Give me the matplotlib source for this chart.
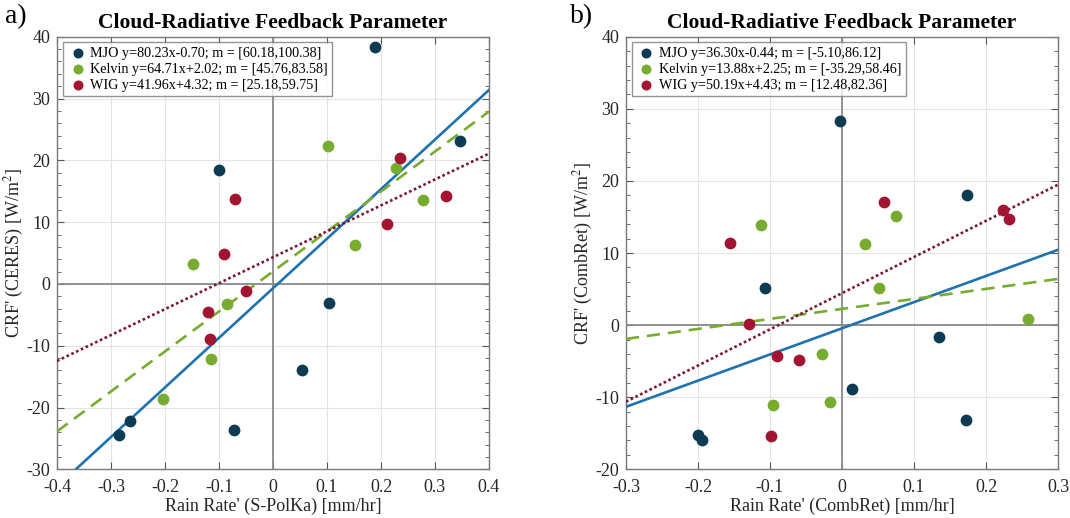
import numpy as np
import matplotlib.pyplot as plt
from matplotlib.ticker import MultipleLocator

plt.rcParams['font.family'] = ['Liberation Serif', 'DejaVu Serif']
plt.rcParams['mathtext.fontset'] = 'stix'
plt.rcParams['axes.unicode_minus'] = False

# panel a: S-PolKa rain rate vs CERES CRF
a_mjo_x = [0.189, -0.100, 0.347, 0.103, 0.053, -0.265, -0.286, -0.072]
a_mjo_y = [38.4, 18.4, 23.2, -3.1, -13.9, -22.2, -24.4, -23.7]
a_kel_x = [-0.148, -0.085, -0.115, -0.203, 0.102, 0.228, 0.277, 0.151]
a_kel_y = [3.2, -3.3, -12.1, -18.7, 22.4, 18.7, 13.6, 6.3]
a_wig_x = [-0.091, -0.050, -0.120, -0.116, 0.236, -0.071, 0.320, 0.211]
a_wig_y = [4.8, -1.2, -4.6, -8.9, 20.4, 13.7, 14.2, 9.7]
a_slope = [80.23, 64.71, 41.96]
a_icept = [-0.70, 2.02, 4.32]
a_labels = ['MJO y=80.23x-0.70; m = [60.18,100.38]',
            'Kelvin y=64.71x+2.02; m = [45.76,83.58]',
            'WIG y=41.96x+4.32; m = [25.18,59.75]']

# panel b: CombRet rain rate vs CombRet CRF
b_mjo_x = [-0.107, 0.135, 0.014, 0.172, -0.200, -0.194, -0.003, 0.174]
b_mjo_y = [5.2, -1.6, -8.9, -13.2, -15.3, -16.0, 28.3, 18.0]
b_kel_x = [0.052, 0.259, -0.028, -0.096, -0.017, 0.075, -0.113, 0.032]
b_kel_y = [5.1, 0.9, -4.0, -11.1, -10.6, 15.1, 13.9, 11.25]
b_wig_x = [-0.129, -0.090, -0.059, -0.099, 0.058, 0.223, 0.232, -0.156]
b_wig_y = [0.1, -4.3, -4.8, -15.4, 17.1, 16.0, 14.7, 11.4]
b_slope = [36.30, 13.88, 50.19]
b_icept = [-0.44, 2.25, 4.43]
b_labels = ['MJO y=36.30x-0.44; m = [-5.10,86.12]',
            'Kelvin y=13.88x+2.25; m = [-35.29,58.46]',
            'WIG y=50.19x+4.43; m = [12.48,82.36]']

dot_colors = ['#0d3b54', '#77ac30', '#a2142f']
line_colors = ['#1f72b0', '#77ac30', '#7a1636']
line_styles = ['-', (0, (5, 3)), (0, (1, 1))]

fig = plt.figure(figsize=(10.7, 5.18), dpi=100)
ax_a = fig.add_axes([0.0533, 0.094, 0.4037, 0.835])
ax_b = fig.add_axes([0.585, 0.094, 0.4038, 0.835])


def draw(ax, xs, ys, slopes, icepts, labels, xlim, ylim, xlab, ylab):
    ax.set_xlim(xlim)
    ax.set_ylim(ylim)
    ax.axhline(0, color='#8a8a8a', lw=1.3, zorder=1)
    ax.axvline(0, color='#8a8a8a', lw=1.3, zorder=1)
    xx = np.array(xlim)
    handles = []
    for i in range(3):
        h = ax.scatter(xs[i], ys[i], s=72, color=dot_colors[i], zorder=4, linewidths=0, label=labels[i])
        handles.append(h)
        ax.plot(xx, slopes[i] * xx + icepts[i], color=line_colors[i], ls=line_styles[i], lw=1.9, zorder=3)
    ticks = np.round(np.arange(xlim[0], xlim[1] + 0.001, 0.1), 1) + 0.0
    ax.set_xticks(ticks)
    ax.set_xticklabels(['0' if abs(v) < 1e-9 else '%g' % v for v in ticks])
    ax.yaxis.set_major_locator(MultipleLocator(10))
    ax.yaxis.set_minor_locator(MultipleLocator(2))
    ax.grid(True, which='major', color='#e3e3e3', lw=0.8, zorder=0)
    ax.set_axisbelow(True)
    ax.tick_params(which='both', direction='in', top=True, right=True, colors='#555555',
                   labelcolor='#262626', labelsize=13)
    ax.tick_params(which='major', length=5)
    ax.tick_params(which='minor', length=3)
    ax.tick_params(axis='x', pad=7)
    ax.tick_params(axis='y', pad=5)
    for s in ax.spines.values():
        s.set_color('#7a7a7a')
        s.set_linewidth(1.0)
    ax.set_xlabel(xlab, fontsize=13, color='#262626', labelpad=1)
    ax.set_ylabel(ylab, fontsize=13, color='#262626', labelpad=0)
    ax.set_title('Cloud-Radiative Feedback Parameter', fontsize=15.5, fontweight='bold', pad=6)
    leg = ax.legend(handles=handles, loc='upper left', fontsize=10.2, frameon=True, fancybox=False,
                    borderaxespad=0.4, handletextpad=0.15, labelspacing=0.22, borderpad=0.3,
                    markerscale=0.85, scatterpoints=1, handlelength=1.5)
    leg.get_frame().set_edgecolor('#7a7a7a')
    leg.get_frame().set_linewidth(1.0)


draw(ax_a, [a_mjo_x, a_kel_x, a_wig_x], [a_mjo_y, a_kel_y, a_wig_y], a_slope, a_icept, a_labels,
     (-0.4, 0.4), (-30, 40), "Rain Rate' (S-PolKa) [mm/hr]", "CRF' (CERES) [W/m$^2$]")
draw(ax_b, [b_mjo_x, b_kel_x, b_wig_x], [b_mjo_y, b_kel_y, b_wig_y], b_slope, b_icept, b_labels,
     (-0.3, 0.3), (-20, 40), "Rain Rate' (CombRet) [mm/hr]", "CRF' (CombRet) [W/m$^2$]")

fig.text(5 / 1070, 1 - 4 / 518, 'a)', fontsize=20, va='top', ha='left')
fig.text(570 / 1070, 1 - 4 / 518, 'b)', fontsize=20, va='top', ha='left')

fig.savefig('out.png', dpi=100)
